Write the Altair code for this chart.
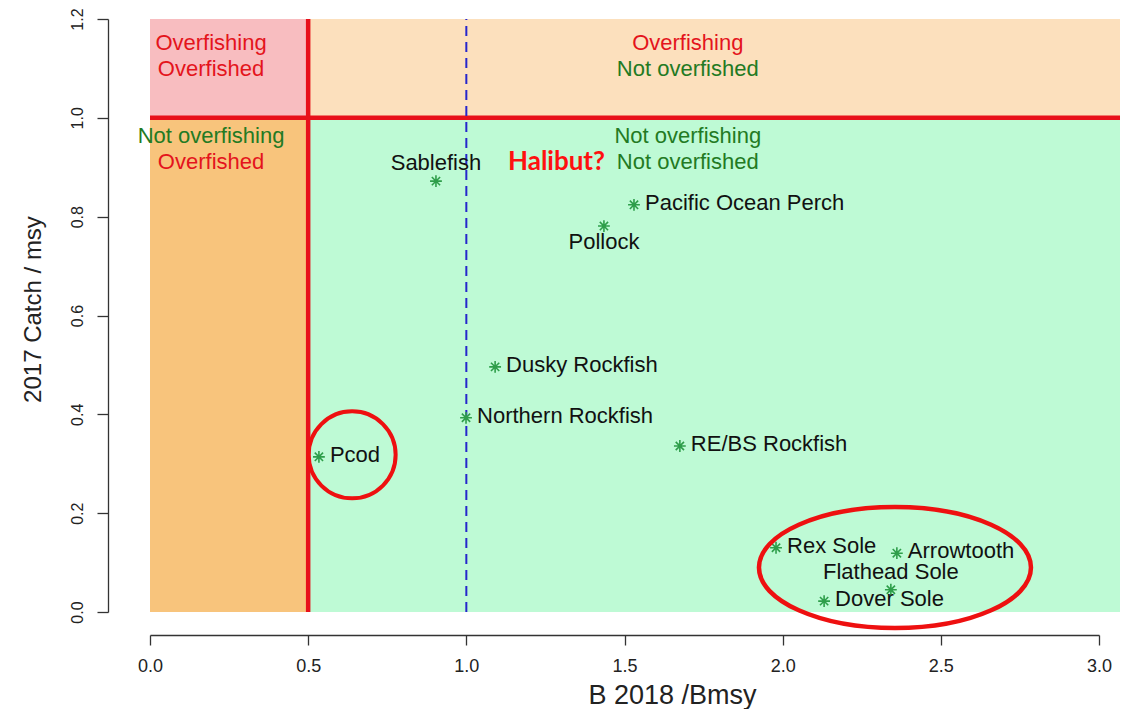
import altair as alt
import pandas as pd

# ---------------- data ----------------
species = ["Sablefish", "Pacific Ocean Perch", "Pollock", "Dusky Rockfish",
           "Northern Rockfish", "RE/BS Rockfish", "Pcod", "Rex Sole",
           "Arrowtooth", "Flathead Sole", "Dover Sole"]
b_ratio = [0.904, 1.530, 1.435, 1.091, 0.999, 1.675, 0.534, 1.979, 2.361, 2.342, 2.131]
catch_ratio = [0.872, 0.824, 0.781, 0.496, 0.393, 0.336, 0.314, 0.130, 0.119, 0.045, 0.022]
label_pos = ["above", "right", "below", "right", "right", "right", "right",
             "right", "right", "above", "right"]

zone_x = [0.0, 0.5, 0.0, 0.5]
zone_x2 = [0.5, 3.12, 0.5, 3.12]
zone_y = [1.0, 1.0, 0.0, 0.0]
zone_y2 = [1.2, 1.2, 1.0, 1.0]
zone_fill = ["#F8BDC0", "#FCE0BD", "#F8C47C", "#BEFAD5"]

RED_TXT = "#E4141C"
GREEN_TXT = "#237A23"
zone_text = ["Overfishing", "Overfished", "Overfishing", "Not overfished",
             "Not overfishing", "Overfished", "Not overfishing", "Not overfished"]
zone_text_x = [0.193, 0.193, 1.70, 1.70, 0.193, 0.193, 1.70, 1.70]
zone_text_y = [1.152, 1.099, 1.152, 1.099, 0.964, 0.911, 0.964, 0.911]
zone_text_color = [RED_TXT, RED_TXT, RED_TXT, GREEN_TXT,
                   GREEN_TXT, RED_TXT, GREEN_TXT, GREEN_TXT]

halibut_text = ["Halibut?"]
halibut_x = [1.285]
halibut_y = [0.911]

# reference lines
bmsy_half = [0.5]      # red vertical limit
catch_limit = [1.0]    # red horizontal limit
bmsy_line = [1.0]      # blue dashed

# highlight ellipses (centres)
circle_x = [0.639]
circle_y = [0.318]
ellipse_x = [2.355]
ellipse_y = [0.090]

x_ticks = [0.0, 0.5, 1.0, 1.5, 2.0, 2.5, 3.0]
y_ticks = [0.0, 0.2, 0.4, 0.6, 0.8, 1.0, 1.2]

# ---------------- chart ----------------
FONT = "Liberation Sans"
LAB = 22
xscale = alt.Scale(domain=[0, 3], nice=False, zero=False)
yscale = alt.Scale(domain=[0, 1.2], nice=False, zero=False)

xaxis = alt.Axis(values=x_ticks, format=".1f", offset=23, tickSize=10,
                 labelPadding=12, labelFontSize=18, labelFont=FONT,
                 labelColor="#222", labelFlush=False, labelOverlap=False,
                 domainColor="#333", tickColor="#333", domainWidth=1.3, tickWidth=1.3,
                 grid=False, title="B 2018 /Bmsy", titleFont=FONT, titleFontSize=27,
                 titleFontWeight="normal", titleColor="#222", titleX=522, titleY=68,
                 titleBaseline="alphabetic", titleAlign="center", titleAnchor="start")
yaxis = alt.Axis(values=y_ticks, format=".1f", offset=42, tickSize=11,
                 labelAngle=270, labelAlign="center", labelBaseline="bottom",
                 labelPadding=12, labelFontSize=16, labelFont=FONT,
                 labelColor="#222", labelFlush=False, labelOverlap=False,
                 domainColor="#333", tickColor="#333", domainWidth=1.3, tickWidth=1.3,
                 grid=False, title="2017 Catch / msy", titleFont=FONT, titleFontSize=24,
                 titleFontWeight="normal", titleColor="#222", titleAngle=270,
                 titleX=-75, titleY=290, titleBaseline="middle", titleAlign="center",
                 titleAnchor="start")


def X(f="x"):
    return alt.X(f"{f}:Q", scale=xscale, axis=xaxis)


def Y(f="y"):
    return alt.Y(f"{f}:Q", scale=yscale, axis=yaxis)


zones = pd.DataFrame({"x": zone_x, "x2": zone_x2, "y": zone_y, "y2": zone_y2, "fill": zone_fill})
zone_layer = alt.Chart(zones).mark_rect(strokeWidth=0).encode(
    x=X(), x2="x2:Q", y=Y(), y2="y2:Q", color=alt.Color("fill:N", scale=None))

vline = alt.Chart(pd.DataFrame({"x": bmsy_half, "y": [0.0], "y2": [1.2]})).mark_rule(
    color="#E8101A", strokeWidth=4.5, strokeCap="butt").encode(x=X(), y=Y(), y2="y2:Q")
hline = alt.Chart(pd.DataFrame({"x": [0.0], "x2": [3.12], "y": catch_limit})).mark_rule(
    color="#E8101A", strokeWidth=4.5, strokeCap="butt").encode(x=X(), x2="x2:Q", y=Y())
dline = alt.Chart(pd.DataFrame({"x": bmsy_line, "y": [0.0], "y2": [1.2]})).mark_rule(
    color="#2626CC", strokeWidth=2, strokeDash=[10, 6]).encode(x=X(), y=Y(), y2="y2:Q")

ztext = pd.DataFrame({"x": zone_text_x, "y": zone_text_y, "t": zone_text, "c": zone_text_color})
zone_text_layer = alt.Chart(ztext).mark_text(font=FONT, fontSize=LAB, baseline="middle").encode(
    x=X(), y=Y(), text="t:N", color=alt.Color("c:N", scale=None))

hal = alt.Chart(pd.DataFrame({"x": halibut_x, "y": halibut_y, "t": halibut_text})).mark_text(
    font="Lato", fontSize=26, fontWeight="bold", color="#FF1010", baseline="middle").encode(
    x=X(), y=Y(), text="t:N")

ASTER = "M-1,0L1,0M0,-1L0,1M-0.7,-0.7L0.7,0.7M-0.7,0.7L0.7,-0.7"
pts = pd.DataFrame({"x": b_ratio, "y": catch_ratio, "name": species, "pos": label_pos})
points = alt.Chart(pts).mark_point(shape=ASTER, size=140, filled=False, color="#2E9E4A",
                                   strokeWidth=1.6, opacity=1).encode(x=X(), y=Y())

lab_right = alt.Chart(pts).transform_filter(alt.datum.pos == "right").mark_text(
    font=FONT, fontSize=LAB, color="#111", align="left", baseline="middle", dx=11, dy=-2).encode(
    x=X(), y=Y(), text="name:N")
lab_above = alt.Chart(pts).transform_filter(alt.datum.pos == "above").mark_text(
    font=FONT, fontSize=LAB, color="#111", align="center", baseline="middle", dy=-18).encode(
    x=X(), y=Y(), text="name:N")
lab_below = alt.Chart(pts).transform_filter(alt.datum.pos == "below").mark_text(
    font=FONT, fontSize=LAB, color="#111", align="center", baseline="middle", dy=16).encode(
    x=X(), y=Y(), text="name:N")

circ = alt.Chart(pd.DataFrame({"x": circle_x, "y": circle_y})).mark_point(
    shape="circle", size=87 * 87, filled=False, color="#EE1010", strokeWidth=4, opacity=1).encode(
    x=X(), y=Y())
ELL = "M-1,0A1,0.445,0,1,1,1,0A1,0.445,0,1,1,-1,0Z"
ell = alt.Chart(pd.DataFrame({"x": ellipse_x, "y": ellipse_y})).mark_point(
    shape=ELL, size=272 * 272, filled=False, color="#EE1010", strokeWidth=4.5, opacity=1).encode(
    x=X(), y=Y())

chart = alt.layer(
    zone_layer, vline, hline, dline, zone_text_layer, hal, points,
    lab_right, lab_above, lab_below, circ, ell
).properties(
    width=949, height=593,
    autosize=alt.AutoSizeParams(type="none"),
    padding={"left": 142, "top": 11, "right": 21, "bottom": 97},
    background="white",
).configure_view(stroke=None)

chart.save("out.html", embed_options={"renderer": "svg", "actions": False})
